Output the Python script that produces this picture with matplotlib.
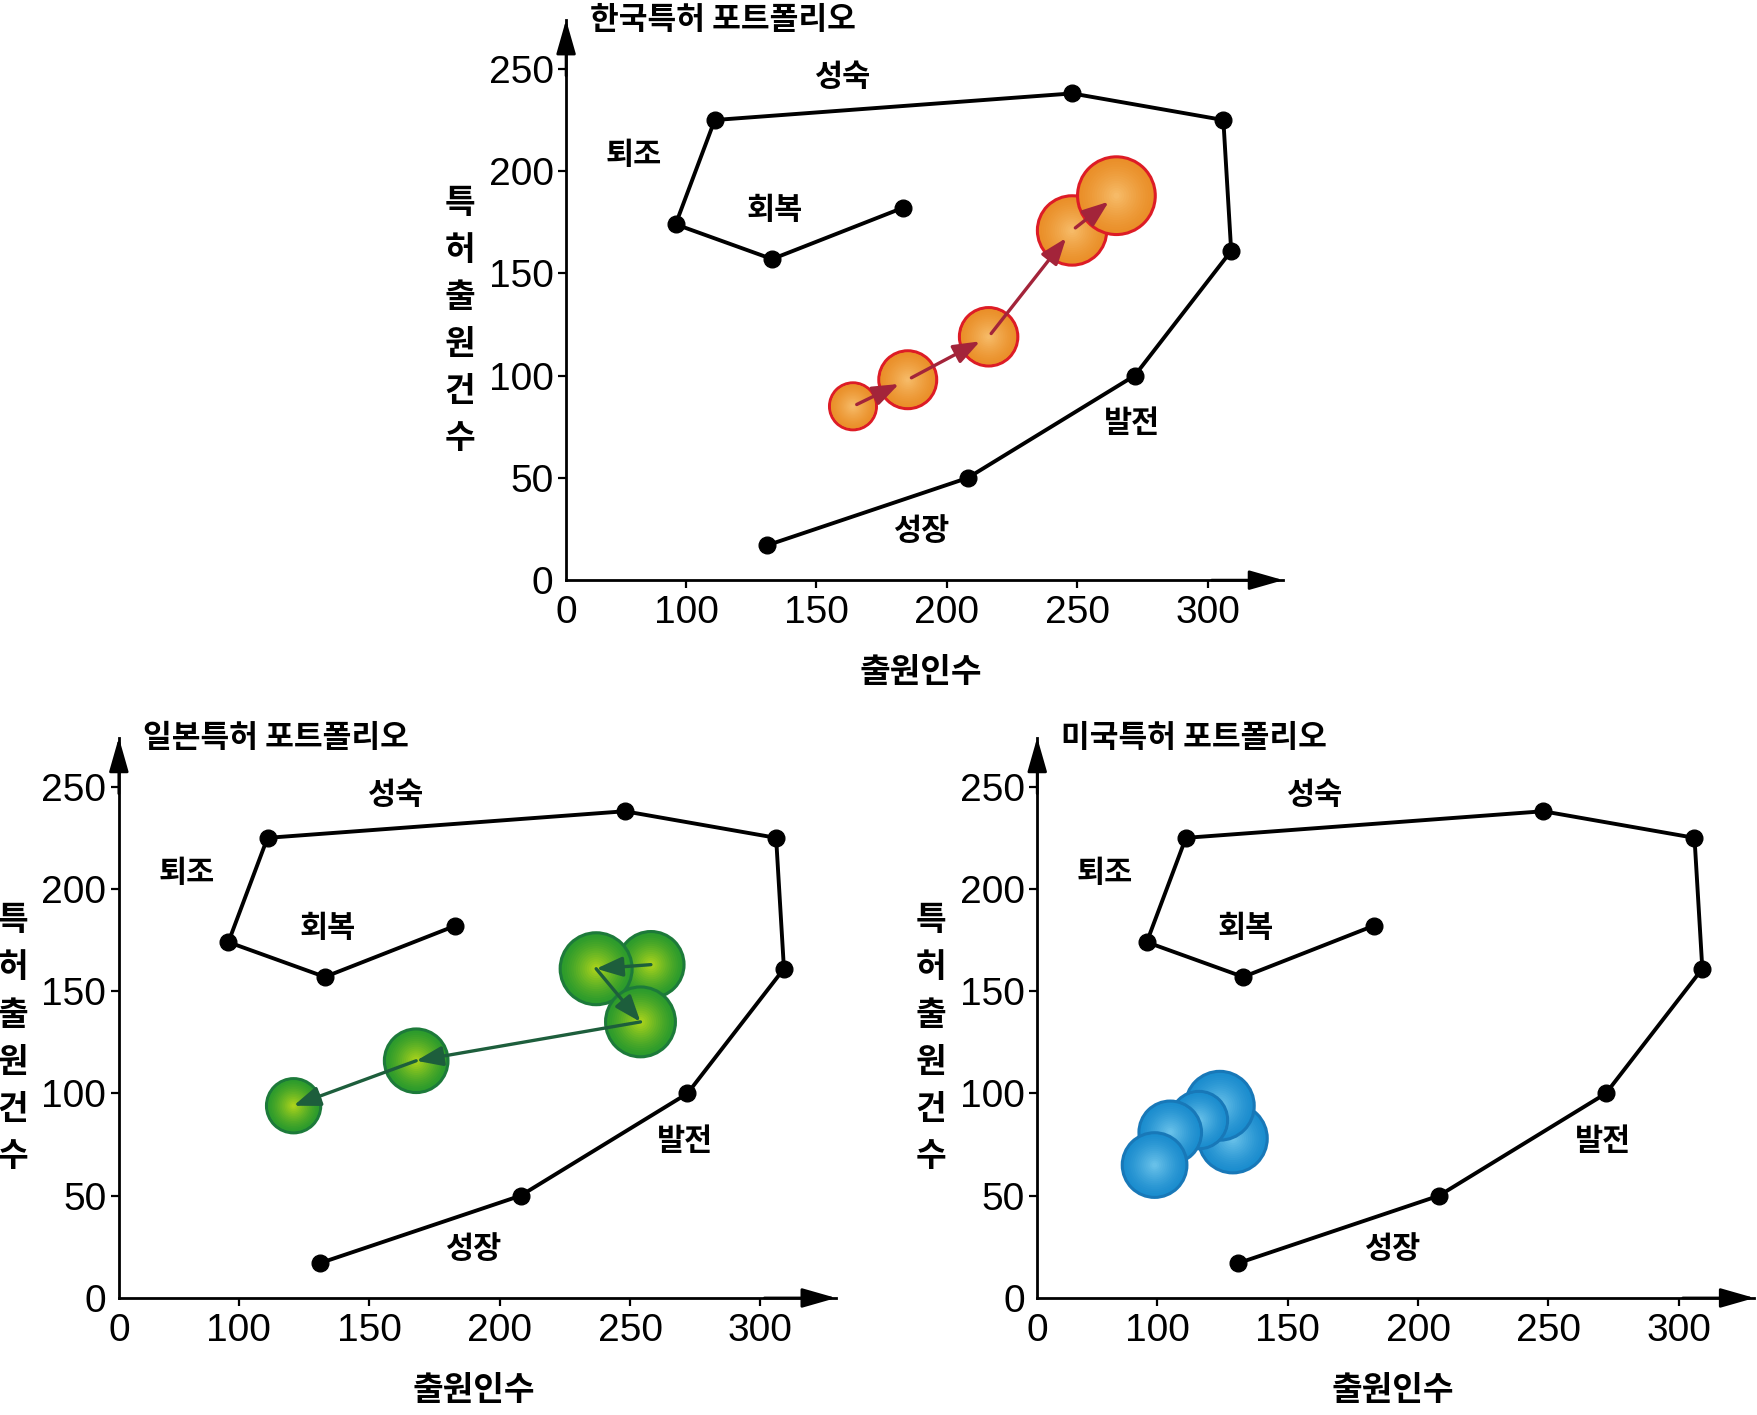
import numpy as np
import matplotlib.pyplot as plt
from matplotlib.colors import to_rgb

plt.rcParams['font.family'] = ['Noto Sans CJK KR', 'DejaVu Sans']

# 공통 포트폴리오 곡선 (출원인수, 특허출원건수)
curve_x = [131, 208, 272, 309, 306, 248, 111, 96, 133, 183]
curve_y = [17, 50, 100, 161, 225, 238, 225, 174, 157, 182]

phase_names = ['성숙', '퇴조', '회복', '발전', '성장']
phase_x = [160, 80, 134, 271, 190]
phase_y = [246, 208, 181, 77, 24]

# 국가별 버블 (시간 순서)
kr_x = [164, 185, 216, 248, 265]
kr_y = [85, 98, 119, 171, 188]
kr_size = [9.0, 11.1, 11.2, 13.3, 14.9]

jp_x = [258, 237, 254, 168, 121]
jp_y = [163, 161, 135, 116, 94]
jp_size = [12.7, 13.8, 13.4, 12.2, 10.4]

us_x = [129, 124, 116, 105, 99]
us_y = [78, 94, 87, 81, 65]
us_size = [13.2, 13.2, 11.0, 12.0, 12.4]

x_ticks = [100, 150, 200, 250, 300]
y_ticks = [0, 50, 100, 150, 200, 250]
x_min, x_max = 54, 329
y_max = 274

W, H = 1758, 1415
fig = plt.figure(figsize=(W / 100, H / 100), dpi=100)


def setup_axes(rect, title):
    ax = fig.add_axes(rect)
    ax.set_xlim(x_min, x_max)
    ax.set_ylim(0, y_max)
    for s in ['top', 'right']:
        ax.spines[s].set_visible(False)
    for s in ['left', 'bottom']:
        ax.spines[s].set_linewidth(2.0)
    ax.set_xticks([x_min] + x_ticks)
    ax.set_xticklabels(['0'] + [str(t) for t in x_ticks])
    ax.set_yticks(y_ticks)
    ax.set_yticklabels([str(t) for t in y_ticks])
    ax.tick_params(axis='both', labelsize=28, width=1.6, length=6, pad=3)
    ax.tick_params(axis='x', pad=5)
    for lab in ax.get_xticklabels() + ax.get_yticklabels():
        lab.set_fontfamily('Liberation Sans')
    ax.xaxis.get_major_ticks()[0].tick1line.set_visible(False)
    ax.yaxis.get_major_ticks()[0].tick1line.set_visible(False)

    # 축 화살표
    head = dict(arrowstyle='-|>,head_length=1.05,head_width=0.3',
                mutation_scale=20, color='black', lw=2.0,
                shrinkA=0, shrinkB=0)
    ax.annotate('', xy=(1, 0), xytext=(0.9, 0), xycoords='axes fraction',
                arrowprops=head, annotation_clip=False)
    ax.annotate('', xy=(0, 1), xytext=(0, 0.9), xycoords='axes fraction',
                arrowprops=head, annotation_clip=False)

    ax.text(0.033, 1.0, title, transform=ax.transAxes, fontsize=22.5,
            fontweight='bold', ha='left', va='center')
    ax.text(0.495, -0.165, '출원인수', transform=ax.transAxes, fontsize=24,
            fontweight='bold', ha='center', va='center')
    ylab = '특허출원건수'
    for i, ch in enumerate(ylab):
        ax.text(-0.148, 0.463 + (2.5 - i) * 0.084, ch, transform=ax.transAxes,
                fontsize=24, fontweight='bold', ha='center', va='center')

    ax.plot(curve_x, curve_y, color='black', lw=2.8, marker='o',
            markersize=12, zorder=2)
    for name, px, py in zip(phase_names, phase_x, phase_y):
        ax.text(px, py, name, fontsize=22, fontweight='bold',
                ha='center', va='center')
    return ax


def draw_bubbles(ax, xs, ys, sizes, outer, inner, edge):
    px_per_unit = ax.get_position().width * W / (x_max - x_min)
    c_out = np.array(to_rgb(outer))
    c_in = np.array(to_rgb(inner))
    fracs = np.linspace(1.0, 0.08, 16)
    for i, (x, y, r) in enumerate(zip(xs, ys, sizes)):
        d_pt = 2 * r * px_per_unit * 72 / 100
        sz = (d_pt * fracs) ** 2
        cols = [c_out + (c_in - c_out) * (1 - f) ** 1.3 for f in fracs]
        ecs = [edge] + ['none'] * (len(fracs) - 1)
        lws = [2.2] + [0] * (len(fracs) - 1)
        ax.scatter([x] * len(fracs), [y] * len(fracs), s=sz, c=cols,
                   edgecolors=ecs, linewidths=lws, zorder=3 + i * 0.1)


def draw_arrows(ax, xs, ys, color, sa, sb):
    for i in range(len(xs) - 1):
        ax.annotate('', xy=(xs[i + 1], ys[i + 1]), xytext=(xs[i], ys[i]),
                    arrowprops=dict(arrowstyle='-|>,head_length=0.8,head_width=0.3',
                                    mutation_scale=20, color=color, lw=2.4,
                                    shrinkA=sa, shrinkB=sb),
                    zorder=10)


ax_kr = setup_axes([0.322, 0.590, 0.408, 0.396], '한국특허 포트폴리오')
ax_jp = setup_axes([0.0676, 0.0827, 0.408, 0.396], '일본특허 포트폴리오')
ax_us = setup_axes([0.590, 0.0827, 0.408, 0.396], '미국특허 포트폴리오')

draw_bubbles(ax_kr, kr_x, kr_y, kr_size, '#ea8f28', '#f7bf6e', '#dd1c26')
draw_arrows(ax_kr, kr_x, kr_y, '#a3243a', 3, 7)

draw_bubbles(ax_jp, jp_x, jp_y, jp_size, '#2a9a2c', '#b6d81a', '#1d7a3a')
draw_arrows(ax_jp, jp_x, jp_y, '#1d5e3c', 0, 0)

draw_bubbles(ax_us, us_x, us_y, us_size, '#1a8cce', '#70c6ec', '#1878b8')

fig.savefig('out.png', dpi=100)
